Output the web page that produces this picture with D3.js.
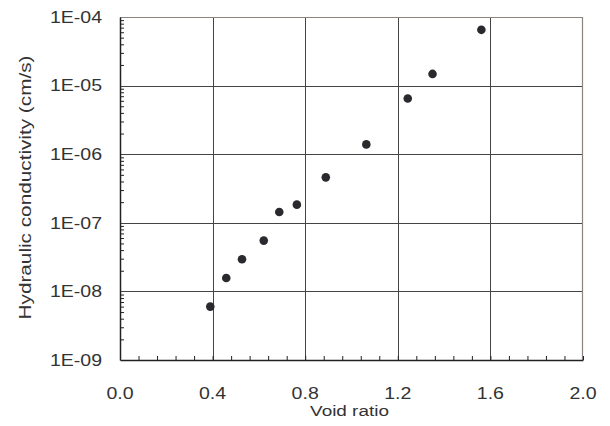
<!DOCTYPE html>
<html>
<head>
<meta charset="utf-8">
<script src="https://cdn.jsdelivr.net/npm/d3@7"></script>
<style>
  body { margin: 0; background: #fff; }
  text { font-family: "Liberation Sans", Arial, sans-serif; fill: #333; }
</style>
</head>
<body>
<div id="chart"></div>
<script>
// data
var voidRatio = [0.39, 0.459, 0.527, 0.621, 0.688, 0.764, 0.889, 1.064, 1.243, 1.35, 1.561];
var conductivity = [6.0e-9, 1.57e-8, 2.94e-8, 5.5e-8, 1.44e-7, 1.84e-7, 4.6e-7, 1.39e-6, 6.5e-6, 1.48e-5, 6.5e-5];
var xTicks = [0, 0.4, 0.8, 1.2, 1.6, 2.0];
var yTicks = [1e-9, 1e-8, 1e-7, 1e-6, 1e-5, 1e-4];

var svgWidth = 610;
var svgHeight = 426;
var margin = { top: 17, right: 27, bottom: 66, left: 120 };
var chartWidth = svgWidth - margin.left - margin.right;
var chartHeight = svgHeight - margin.top - margin.bottom;

// the original lettering is a bit wider than Liberation Sans
var stretch = 1.22;
function widen(sel) {
  sel.each(function() {
    var w = this.getComputedTextLength();
    d3.select(this)
      .attr("textLength", w * stretch)
      .attr("lengthAdjust", "spacingAndGlyphs");
  });
}

var svg = d3.select("#chart").append("svg")
  .attr("width", svgWidth)
  .attr("height", svgHeight);

var chartGroup = svg.append("g")
  .attr("transform", `translate(${margin.left}, ${margin.top})`);

var xScale = d3.scaleLinear().domain([0, 2]).range([0, chartWidth]);
var yScale = d3.scaleLog().domain([1e-9, 1e-4]).range([chartHeight, 0]);

// grid lines
chartGroup.selectAll(".vgrid")
  .data(xTicks.slice(1, -1))
  .enter().append("line")
  .attr("x1", d => Math.round(xScale(d)) + 0.5)
  .attr("x2", d => Math.round(xScale(d)) + 0.5)
  .attr("y1", 0).attr("y2", chartHeight)
  .attr("stroke", "#444").attr("stroke-width", 1);

chartGroup.selectAll(".hgrid")
  .data(yTicks.slice(1, -1))
  .enter().append("line")
  .attr("y1", d => Math.round(yScale(d)) + 0.5)
  .attr("y2", d => Math.round(yScale(d)) + 0.5)
  .attr("x1", 0).attr("x2", chartWidth)
  .attr("stroke", "#444").attr("stroke-width", 1);

// frame top / right
chartGroup.append("path")
  .attr("d", `M0,0.5H${chartWidth - 0.5}V${chartHeight}`)
  .attr("fill", "none").attr("stroke", "#8a8380").attr("stroke-width", 1.2);

// minor ticks
var xMinor = d3.range(0, 2.0001, 0.08);
var yMinor = [];
yTicks.slice(0, -1).forEach(function(t) {
  for (var m = 2; m <= 9; m++) yMinor.push(t * m);
});

var xAxis = d3.axisBottom(xScale).tickValues(xMinor).tickSize(-4).tickFormat("").tickSizeOuter(0);
var yAxis = d3.axisLeft(yScale).tickValues(yMinor).tickSize(-4).tickFormat("").tickSizeOuter(0);

chartGroup.append("g")
  .attr("transform", `translate(0, ${chartHeight})`)
  .call(xAxis)
  .call(g => g.selectAll("line").attr("stroke", "#222"))
  .call(g => g.select(".domain").attr("stroke", "#222").attr("stroke-width", 1.5));

chartGroup.append("g")
  .call(yAxis)
  .call(g => g.selectAll("line").attr("stroke", "#222"))
  .call(g => g.select(".domain").attr("stroke", "#222").attr("stroke-width", 1.5));

// tick labels
chartGroup.selectAll(".xlab")
  .data(xTicks)
  .enter().append("text")
  .attr("x", d => xScale(d))
  .attr("y", chartHeight + 39)
  .attr("text-anchor", "middle")
  .attr("font-size", "16px")
  .text(d => d3.format(".1f")(d))
  .call(widen);

chartGroup.selectAll(".ylab")
  .data(yTicks)
  .enter().append("text")
  .attr("x", -18)
  .attr("y", d => yScale(d))
  .attr("dy", "0.36em")
  .attr("text-anchor", "end")
  .attr("font-size", "16px")
  .text(d => "1E-0" + Math.round(-Math.log10(d)))
  .call(widen);

// points
chartGroup.selectAll(".pt")
  .data(voidRatio)
  .enter().append("circle")
  .attr("cx", d => xScale(d))
  .attr("cy", (d, i) => yScale(conductivity[i]))
  .attr("r", 4.3)
  .attr("fill", "#2a2a2e");

// axis titles
chartGroup.append("text")
  .attr("x", chartWidth / 2 - 2)
  .attr("y", chartHeight + 56)
  .attr("text-anchor", "middle")
  .attr("font-size", "15.5px")
  .text("Void ratio")
  .call(widen);

chartGroup.append("text")
  .attr("transform", "rotate(-90)")
  .attr("x", -chartHeight / 2 + 1)
  .attr("y", -89)
  .attr("text-anchor", "middle")
  .attr("font-size", "17px")
  .text("Hydraulic conductivity (cm/s)")
  .call(widen);
</script>
</body>
</html>
